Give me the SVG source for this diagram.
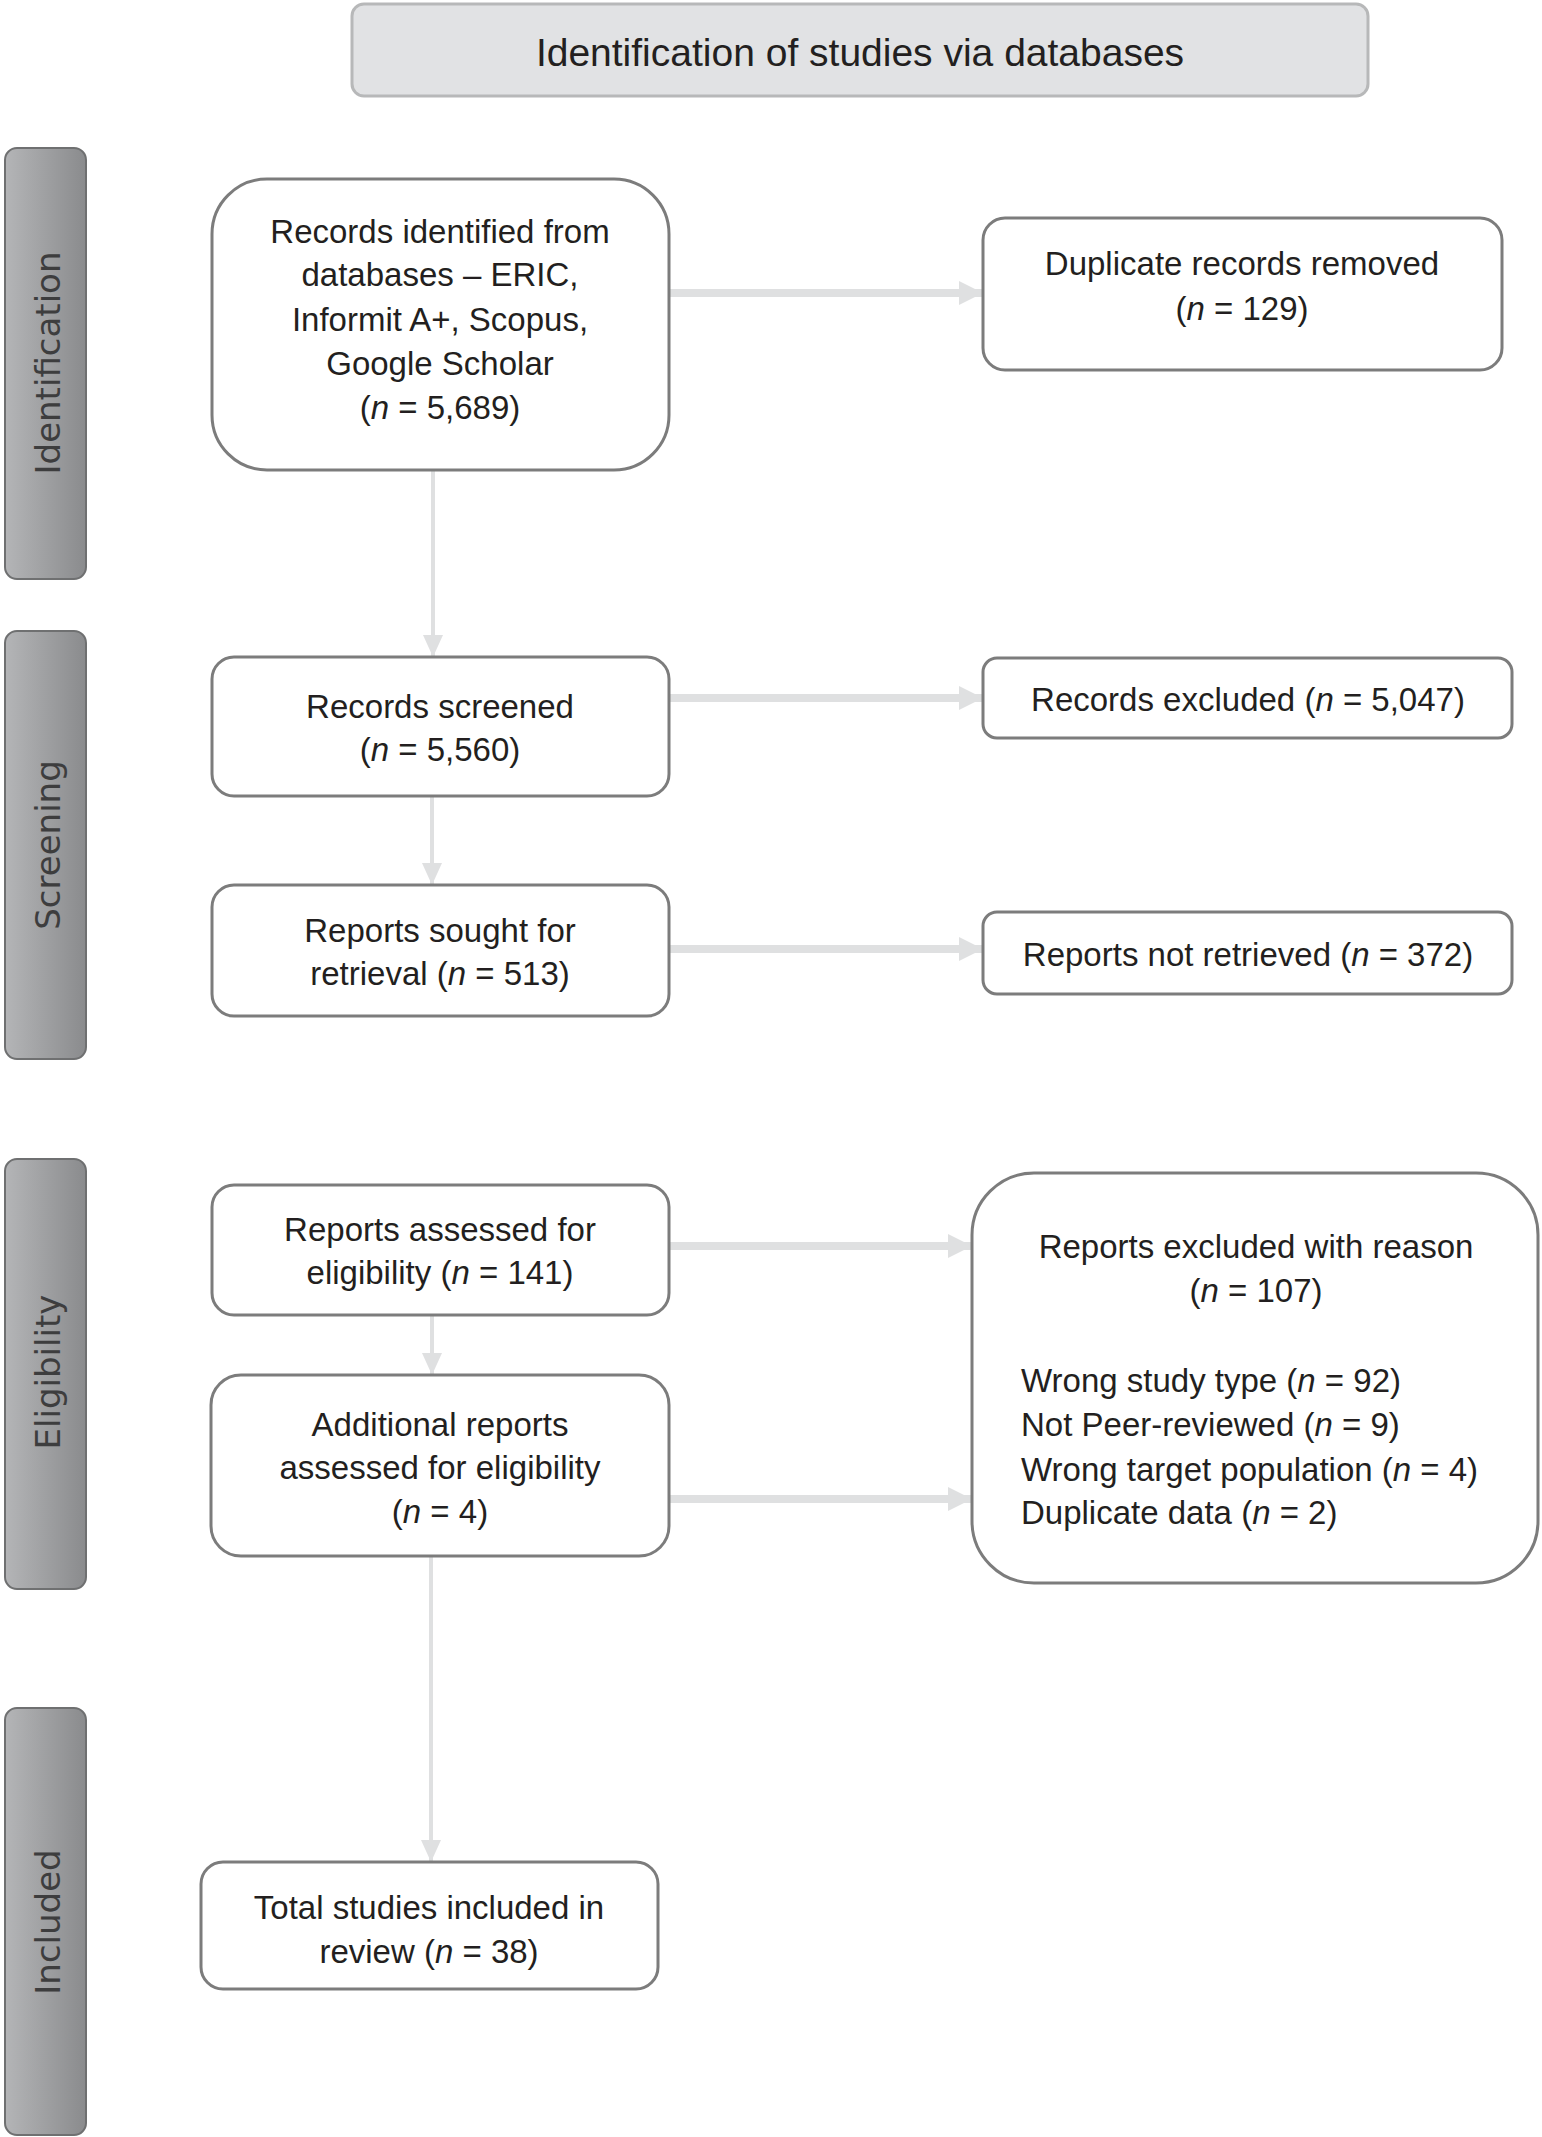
<svg xmlns="http://www.w3.org/2000/svg" width="1542" height="2137" viewBox="0 0 1542 2137">
<style>
.node{fill:#ffffff;stroke:#7c7c7c;stroke-width:3}
.hdr{fill:#e1e2e4;stroke:#b7b8b9;stroke-width:3}
.bar{fill:url(#barg);stroke:#6f7071;stroke-width:2}
.t{font-family:"Liberation Sans",Arial,sans-serif;font-size:33px;fill:#231f20;text-anchor:middle}
.tl{font-family:"Liberation Sans",Arial,sans-serif;font-size:33px;fill:#231f20;text-anchor:start}
.h{font-family:"Liberation Sans",Arial,sans-serif;font-size:39px;fill:#231f20;text-anchor:middle}
.side{font-family:"DejaVu Sans",Verdana,sans-serif;font-size:34px;fill:#3d3d3e;text-anchor:middle}
.i{font-style:italic}
.ah{fill:none;stroke:#dfe0e1;stroke-width:8}
.av{fill:none;stroke:#dfe0e1;stroke-width:4}
</style>
<defs>
<linearGradient id="barg" x1="0" y1="0" x2="1" y2="0">
<stop offset="0" stop-color="#b4b5b7"/>
<stop offset="1" stop-color="#8a8b8d"/>
</linearGradient>
<marker id="mh" viewBox="0 0 24 24" refX="24" refY="12" markerWidth="24" markerHeight="24" markerUnits="userSpaceOnUse" orient="auto">
<path d="M0,0 L24,12 L0,24 z" fill="#dfe0e1"/>
</marker>
<marker id="mv" viewBox="0 0 22 20" refX="22" refY="10" markerWidth="22" markerHeight="20" markerUnits="userSpaceOnUse" orient="auto">
<path d="M0,0 L22,10 L0,20 z" fill="#dfe0e1"/>
</marker>
</defs>
<rect width="1542" height="2137" fill="#ffffff"/>

<g id="header">
<rect class="hdr" x="352" y="4" width="1016" height="92" rx="12"/>
<text class="h" x="860" y="66">Identification of studies via databases</text>
</g>

<g id="phase-identification">
<rect class="bar" x="5" y="148" width="81" height="431" rx="12"/>
<text class="side" transform="translate(60,363) rotate(-90)">Identification</text>
</g>
<g id="phase-screening">
<rect class="bar" x="5" y="631" width="81" height="428" rx="12"/>
<text class="side" transform="translate(60,845) rotate(-90)">Screening</text>
</g>
<g id="phase-eligibility">
<rect class="bar" x="5" y="1159" width="81" height="430" rx="12"/>
<text class="side" transform="translate(60,1372) rotate(-90)">Eligibility</text>
</g>
<g id="phase-included">
<rect class="bar" x="5" y="1708" width="81" height="427" rx="12"/>
<text class="side" transform="translate(60,1922) rotate(-90)">Included</text>
</g>

<g id="connectors">
<line class="ah" x1="669" y1="293" x2="983" y2="293" marker-end="url(#mh)"/>
<line class="ah" x1="669" y1="698" x2="983" y2="698" marker-end="url(#mh)"/>
<line class="ah" x1="669" y1="949" x2="983" y2="949" marker-end="url(#mh)"/>
<line class="ah" x1="669" y1="1246" x2="972" y2="1246" marker-end="url(#mh)"/>
<line class="ah" x1="669" y1="1499" x2="972" y2="1499" marker-end="url(#mh)"/>
<line class="av" x1="433" y1="470" x2="433" y2="657" marker-end="url(#mv)"/>
<line class="av" x1="432" y1="796" x2="432" y2="885" marker-end="url(#mv)"/>
<line class="av" x1="432" y1="1315" x2="432" y2="1375" marker-end="url(#mv)"/>
<line class="av" x1="431" y1="1556" x2="431" y2="1862" marker-end="url(#mv)"/>
</g>

<g id="n-records-identified">
<rect class="node" x="212" y="179" width="457" height="291" rx="55"/>
<text class="t" x="440" y="243">Records identified from</text>
<text class="t" x="440" y="286">databases – ERIC,</text>
<text class="t" x="440" y="331">Informit A+, Scopus,</text>
<text class="t" x="440" y="375">Google Scholar</text>
<text class="t" x="440" y="419">(<tspan class="i">n</tspan> = 5,689)</text>
</g>

<g id="n-duplicates">
<rect class="node" x="983" y="218" width="519" height="152" rx="22"/>
<text class="t" x="1242" y="275">Duplicate records removed</text>
<text class="t" x="1242" y="320">(<tspan class="i">n</tspan> = 129)</text>
</g>

<g id="n-records-screened">
<rect class="node" x="212" y="657" width="457" height="139" rx="22"/>
<text class="t" x="440" y="718">Records screened</text>
<text class="t" x="440" y="761">(<tspan class="i">n</tspan> = 5,560)</text>
</g>

<g id="n-records-excluded">
<rect class="node" x="983" y="658" width="529" height="80" rx="14"/>
<text class="t" x="1248" y="711">Records excluded (<tspan class="i">n</tspan> = 5,047)</text>
</g>

<g id="n-reports-sought">
<rect class="node" x="212" y="885" width="457" height="131" rx="22"/>
<text class="t" x="440" y="942">Reports sought for</text>
<text class="t" x="440" y="985">retrieval (<tspan class="i">n</tspan> = 513)</text>
</g>

<g id="n-not-retrieved">
<rect class="node" x="983" y="912" width="529" height="82" rx="14"/>
<text class="t" x="1248" y="966">Reports not retrieved (<tspan class="i">n</tspan> = 372)</text>
</g>

<g id="n-assessed">
<rect class="node" x="212" y="1185" width="457" height="130" rx="22"/>
<text class="t" x="440" y="1241">Reports assessed for</text>
<text class="t" x="440" y="1284">eligibility (<tspan class="i">n</tspan> = 141)</text>
</g>

<g id="n-excluded-reason">
<rect class="node" x="972" y="1173" width="566" height="410" rx="62"/>
<text class="t" x="1256" y="1258">Reports excluded with reason</text>
<text class="t" x="1256" y="1302">(<tspan class="i">n</tspan> = 107)</text>
<text class="tl" x="1021" y="1392">Wrong study type (<tspan class="i">n</tspan> = 92)</text>
<text class="tl" x="1021" y="1436">Not Peer-reviewed (<tspan class="i">n</tspan> = 9)</text>
<text class="tl" x="1021" y="1481">Wrong target population (<tspan class="i">n</tspan> = 4)</text>
<text class="tl" x="1021" y="1524">Duplicate data (<tspan class="i">n</tspan> = 2)</text>
</g>

<g id="n-additional">
<rect class="node" x="211" y="1375" width="458" height="181" rx="30"/>
<text class="t" x="440" y="1436">Additional reports</text>
<text class="t" x="440" y="1479">assessed for eligibility</text>
<text class="t" x="440" y="1523">(<tspan class="i">n</tspan> = 4)</text>
</g>

<g id="n-total">
<rect class="node" x="201" y="1862" width="457" height="127" rx="22"/>
<text class="t" x="429" y="1919">Total studies included in</text>
<text class="t" x="429" y="1963">review (<tspan class="i">n</tspan> = 38)</text>
</g>
</svg>
